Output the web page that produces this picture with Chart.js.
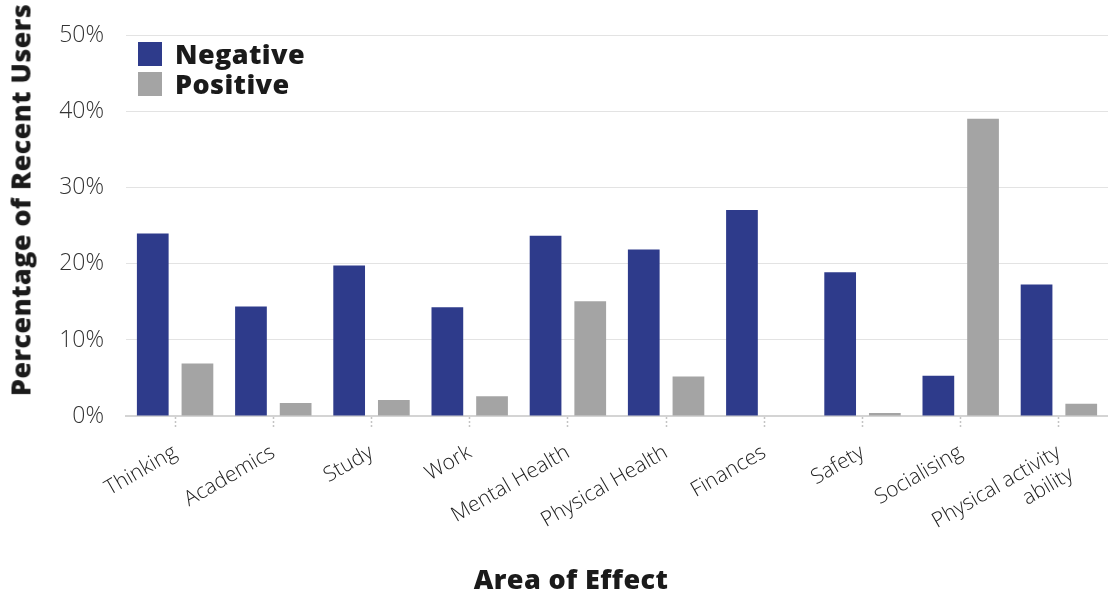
<!DOCTYPE html>
<html>
<head>
<meta charset="utf-8">
<script src="https://cdn.jsdelivr.net/npm/chart.js@4"></script>
<style>
  html, body { margin: 0; padding: 0; background: #fff; }
  #wrap { position: relative; width: 1108px; height: 594px; }
  .heavy { font-family: "Open Sans", sans-serif; font-weight: 800; font-size: 27px; color: #1a1a1a; letter-spacing: 0.4px; white-space: nowrap; }
  #legend { position: absolute; left: 138px; top: 39px; line-height: 30px; }
  #legend div { display: flex; align-items: center; }
  #legend span.box { display: inline-block; width: 24px; height: 24px; margin-right: 13px; }
  #xTitle { position: absolute; left: 571px; top: 578px; transform: translate(-50%, -50%); }
  #yTitle { position: absolute; left: 20px; top: 200px; transform: translate(-50%, -50%) rotate(-90deg); }
</style>
</head>
<body>
<div id="wrap">
  <canvas id="chart" width="1108" height="594"></canvas>
  <div id="legend" class="heavy"></div>
  <div id="xTitle" class="heavy">Area of Effect</div>
  <div id="yTitle" class="heavy">Percentage of Recent Users</div>
</div>
<script>
// categories along the x axis
const areas = ["Thinking", "Academics", "Study", "Work", "Mental Health", "Physical Health",
  "Finances", "Safety", "Socialising", ["Physical activity", "ability"]];

// share of recent users (%) reporting each effect
const negative = [24.0, 14.4, 19.8, 14.3, 23.7, 21.9, 27.1, 18.9, 5.3, 17.3];
const positive = [6.9, 1.7, 2.1, 2.6, 15.1, 5.2, 0, 0.4, 39.1, 1.6];

const yTicks = [0, 10, 20, 30, 40, 50];

const NAVY = "#2e3b8b";
const GREY = "#a4a4a4";

const datasets = [
  { label: "Negative", data: negative, backgroundColor: NAVY },
  { label: "Positive", data: positive, backgroundColor: GREY }
];

new Chart(document.getElementById("chart"), {
  type: "bar",
  data: { labels: areas, datasets: datasets.map((d) => ({ ...d, categoryPercentage: 0.91, barPercentage: 0.71 })) },
  options: {
    responsive: false,
    animation: false,
    layout: { padding: { top: 30, right: 0, left: 0, bottom: 0 } },
    plugins: { legend: { display: false }, tooltip: { enabled: false } },
    scales: {
      x: {
        afterFit: (s) => { s.height = 178; },
        border: { color: "#d4d4d4", width: 2 },
        grid: { offset: false, drawOnChartArea: false, drawTicks: true, tickLength: 12, color: "#c4c4c4", tickColor: "#c4c4c4", tickBorderDash: [2, 2], tickWidth: 1.5 },
        ticks: {
          autoSkip: false, minRotation: 30, maxRotation: 30, padding: 12,
          color: "#222", font: { family: "Open Sans", weight: 300, size: 21 }
        }
      },
      y: {
        min: 0, max: 50,
        afterFit: (s) => { s.width = 126; },
        afterBuildTicks: (s) => { s.ticks = yTicks.map((v) => ({ value: v })); },
        border: { display: false },
        grid: { color: "#e3e3e3", drawTicks: false },
        ticks: {
          padding: 22, color: "#333",
          font: { family: "Open Sans", weight: 300, size: 23 },
          callback: (v) => v + "%"
        }
      }
    }
  }
});

// legend stacked top-left inside the plot
document.getElementById("legend").innerHTML = datasets
  .map((d) => `<div><span class="box" style="background:${d.backgroundColor}"></span>${d.label}</div>`)
  .join("");
</script>
</body>
</html>
